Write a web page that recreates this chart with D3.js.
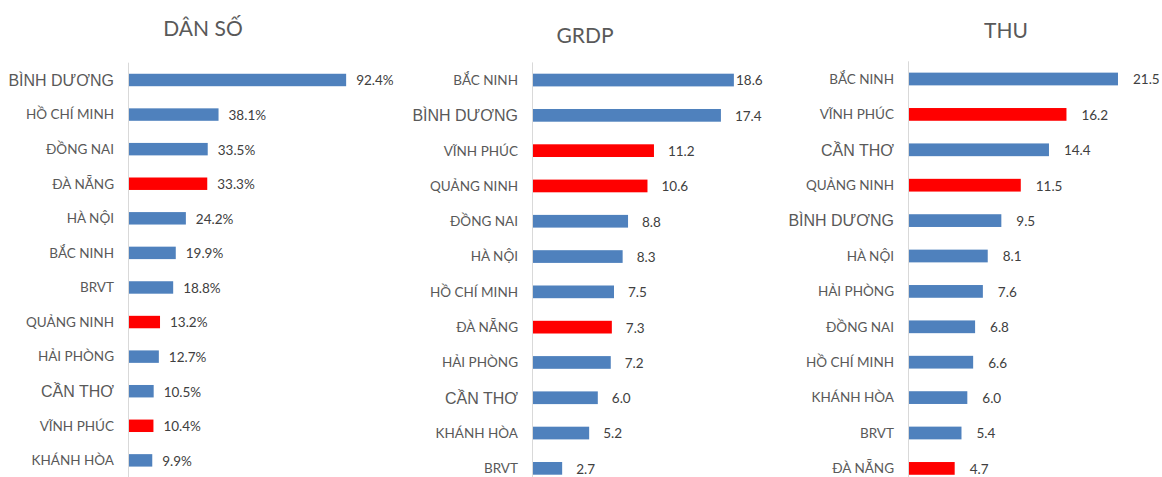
<!DOCTYPE html>
<html>
<head>
<meta charset="utf-8">
<script src="https://cdn.jsdelivr.net/npm/d3@7"></script>
<style>
  body { margin: 0; background: #fff; }
  svg { display: block; }
</style>
</head>
<body>
<div id="chart"></div>
<script>
// data
const danSoCategories = ['BÌNH DƯƠNG', 'HỒ CHÍ MINH', 'ĐỒNG NAI', 'ĐÀ NẴNG', 'HÀ NỘI', 'BẮC NINH',
  'BRVT', 'QUẢNG NINH', 'HẢI PHÒNG', 'CẦN THƠ', 'VĨNH PHÚC', 'KHÁNH HÒA'];
const danSoValues = [92.4, 38.1, 33.5, 33.3, 24.2, 19.9, 18.8, 13.2, 12.7, 10.5, 10.4, 9.9];

const grdpCategories = ['BẮC NINH', 'BÌNH DƯƠNG', 'VĨNH PHÚC', 'QUẢNG NINH', 'ĐỒNG NAI', 'HÀ NỘI',
  'HỒ CHÍ MINH', 'ĐÀ NẴNG', 'HẢI PHÒNG', 'CẦN THƠ', 'KHÁNH HÒA', 'BRVT'];
const grdpValues = [18.6, 17.4, 11.2, 10.6, 8.8, 8.3, 7.5, 7.3, 7.2, 6.0, 5.2, 2.7];

const thuCategories = ['BẮC NINH', 'VĨNH PHÚC', 'CẦN THƠ', 'QUẢNG NINH', 'BÌNH DƯƠNG', 'HÀ NỘI',
  'HẢI PHÒNG', 'ĐỒNG NAI', 'HỒ CHÍ MINH', 'KHÁNH HÒA', 'BRVT', 'ĐÀ NẴNG'];
const thuValues = [21.5, 16.2, 14.4, 11.5, 9.5, 8.1, 7.6, 6.8, 6.6, 6.0, 5.4, 4.7];

const highlighted = ['ĐÀ NẴNG', 'QUẢNG NINH', 'VĨNH PHÚC'];
const bigLabels = ['BÌNH DƯƠNG', 'CẦN THƠ'];

const width = 1162,
      height = 477,
      blue = '#4F81BD',
      red = '#FF0000',
      textColor = '#595959',
      valueColor = '#404040';

const panels = [
  {title: 'DÂN SỐ', titleX: 203, titleY: 36, categories: danSoCategories, values: danSoValues,
   axisX: 129, xMax: 100, plotW: 235, yTop: 62.7, step: 34.58, labelGap: 10, labelMax: 9999, suffix: '%'},
  {title: 'GRDP', titleX: 585, titleY: 43, categories: grdpCategories, values: grdpValues,
   axisX: 533, xMax: 20, plotW: 216, yTop: 62.4, step: 35.3, labelGap: 14, labelMax: 736, suffix: ''},
  {title: 'THU', titleX: 1006, titleY: 38, categories: thuCategories, values: thuValues,
   axisX: 909, xMax: 25, plotW: 243, yTop: 61.3, step: 35.4, labelGap: 15, labelMax: 9999, suffix: ''}
];

let svg = d3.select('#chart')
  .append('svg')
  .attr('width', width)
  .attr('height', height);

panels.forEach(drawPanel);

function drawPanel(p) {
  let g = svg.append('g');
  let n = p.categories.length;

  let x = d3.scaleLinear()
    .domain([0, p.xMax])
    .range([p.axisX, p.axisX + p.plotW]);

  let y = d3.scaleBand()
    .domain(p.categories)
    .range([p.yTop, p.yTop + n * p.step])
    .paddingInner(0.64)
    .paddingOuter(0.32);

  let rows = p.categories.map((c, i) => ({name: c, value: p.values[i]}));

  // title
  g.append('text')
    .attr('x', p.titleX)
    .attr('y', p.titleY)
    .attr('text-anchor', 'middle')
    .style('font-family', 'Lato, sans-serif')
    .style('font-size', '21px')
    .style('fill', textColor)
    .text(p.title);

  // bars
  g.selectAll('rect.bar')
    .data(rows)
    .enter()
    .append('rect')
    .attr('class', 'bar')
    .attr('x', x(0))
    .attr('y', d => y(d.name))
    .attr('width', d => x(d.value) - x(0))
    .attr('height', y.bandwidth())
    .style('fill', d => highlighted.includes(d.name) ? red : blue);

  // vertical axis line
  g.append('line')
    .attr('x1', x(0) - 0.5)
    .attr('x2', x(0) - 0.5)
    .attr('y1', p.yTop)
    .attr('y2', height)
    .style('stroke', '#D9D9D9')
    .style('stroke-width', 1);

  // category labels
  g.selectAll('text.cat')
    .data(rows)
    .enter()
    .append('text')
    .attr('class', 'cat')
    .attr('x', x(0) - 15)
    .attr('y', d => y(d.name) + y.bandwidth() / 2)
    .attr('dy', '0.36em')
    .attr('text-anchor', 'end')
    .style('font-family', d => bigLabels.includes(d.name) ? '"Liberation Sans", Arial, sans-serif' : 'Lato, sans-serif')
    .style('font-size', d => bigLabels.includes(d.name) ? '16px' : '13.5px')
    .style('fill', textColor)
    .text(d => d.name);

  // value labels
  g.selectAll('text.val')
    .data(rows)
    .enter()
    .append('text')
    .attr('class', 'val')
    .attr('x', d => Math.min(x(d.value) + p.labelGap, p.labelMax))
    .attr('y', d => y(d.name) + y.bandwidth() / 2)
    .attr('dy', '0.4em')
    .style('font-family', 'Lato, sans-serif')
    .style('font-size', '13.5px')
    .style('fill', valueColor)
    .text(d => d3.format('.1f')(d.value) + p.suffix);
}
</script>
</body>
</html>
